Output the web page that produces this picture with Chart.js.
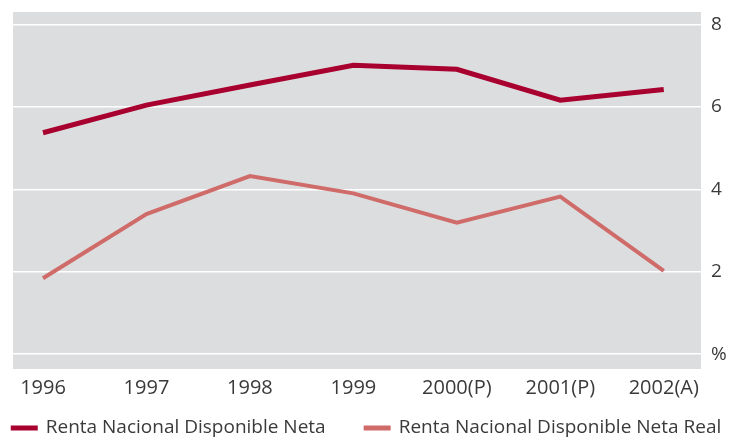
<!DOCTYPE html>
<html>
<head>
<meta charset="utf-8">
<script src="https://cdn.jsdelivr.net/npm/chart.js@4/dist/chart.umd.min.js"></script>
<style>
    html, body { margin: 0; padding: 0; background: #ffffff; }
    #wrap { width: 732px; height: 437px; }
</style>
</head>
<body>
<div id="wrap"><canvas id="chart" width="732" height="437"></canvas></div>
<script>
// 数据
var years = ['1996', '1997', '1998', '1999', '2000(P)', '2001(P)', '2002(A)'];
var rentaNeta = [5.37, 6.04, 6.53, 7.01, 6.91, 6.16, 6.42];
var rentaNetaReal = [1.84, 3.40, 4.32, 3.90, 3.19, 3.82, 2.02];
var yTicks = [0, 2, 4, 6, 8];

var colorNeta = '#a8002f';
var colorReal = '#cf6b69';
var textColor = '#3a3a3a';
var font = "'Open Sans', 'DejaVu Sans', sans-serif";

function toPoints(values) {
    return values.map(function(v, i) { return { x: i, y: v }; });
}

// 绘图区灰色背景
var plotBackground = {
    id: 'plotBackground',
    beforeDraw: function(chart) {
        var a = chart.chartArea;
        var ctx = chart.ctx;
        ctx.save();
        ctx.fillStyle = '#dcdddf';
        ctx.fillRect(a.left, a.top, a.right - a.left, a.bottom - a.top);
        ctx.restore();
    }
};

// 底部图例（居中，线段样式）
var bottomLegend = {
    id: 'bottomLegend',
    afterDraw: function(chart) {
        var ctx = chart.ctx;
        var sample = 27, gap = 8, between = 38, y = 428;
        ctx.save();
        ctx.font = '19px ' + font;
        var widths = chart.data.datasets.map(function(ds) {
            return ctx.measureText(ds.label).width;
        });
        var total = 0;
        widths.forEach(function(w, i) {
            total += sample + gap + w + (i > 0 ? between : 0);
        });
        var x = (chart.width - total) / 2;
        chart.data.datasets.forEach(function(ds, i) {
            ctx.fillStyle = ds.borderColor;
            ctx.fillRect(x, y - 2.5, sample, 5);
            ctx.fillStyle = textColor;
            ctx.textBaseline = 'middle';
            ctx.textAlign = 'left';
            ctx.fillText(ds.label, x + sample + gap, y);
            x += sample + gap + widths[i] + between;
        });
        ctx.restore();
    }
};

new Chart(document.getElementById('chart'), {
    type: 'line',
    data: {
        datasets: [{
            label: 'Renta Nacional Disponible Neta',
            data: toPoints(rentaNeta),
            borderColor: colorNeta,
            backgroundColor: colorNeta,
            borderWidth: 5,
            pointRadius: 0,
            tension: 0
        }, {
            label: 'Renta Nacional Disponible Neta Real',
            data: toPoints(rentaNetaReal),
            borderColor: colorReal,
            backgroundColor: colorReal,
            borderWidth: 4,
            pointRadius: 0,
            tension: 0
        }]
    },
    options: {
        responsive: false,
        animation: false,
        layout: { padding: { left: 13, right: 0, top: 12, bottom: 30 } },
        plugins: {
            tooltip: { enabled: false },
            legend: { display: false }
        },
        scales: {
            x: {
                type: 'linear',
                min: -0.29,
                max: 6.36,
                grid: { display: false, drawTicks: false },
                border: { display: false },
                afterBuildTicks: function(scale) {
                    scale.ticks = years.map(function(_, i) { return { value: i }; });
                },
                afterFit: function(scale) {
                    scale.paddingLeft = 0;
                    scale.paddingRight = 0;
                },
                ticks: {
                    padding: 7,
                    color: textColor,
                    maxRotation: 0,
                    font: { family: font, size: 20 },
                    callback: function(v) { return years[v]; }
                }
            },
            y: {
                position: 'right',
                min: -0.36,
                max: 8.3,
                grid: { color: '#ffffff', lineWidth: 1.5, drawTicks: false },
                border: { display: false },
                afterBuildTicks: function(scale) {
                    scale.ticks = yTicks.map(function(v) { return { value: v }; });
                },
                afterFit: function(scale) {
                    scale.paddingTop = 0;
                    scale.paddingBottom = 0;
                    scale.width = 31;
                },
                ticks: {
                    padding: 10,
                    color: textColor,
                    font: { family: font, size: 19 },
                    callback: function(v) { return v === 0 ? '%' : v; }
                }
            }
        }
    },
    plugins: [plotBackground, bottomLegend]
});
</script>
</body>
</html>
